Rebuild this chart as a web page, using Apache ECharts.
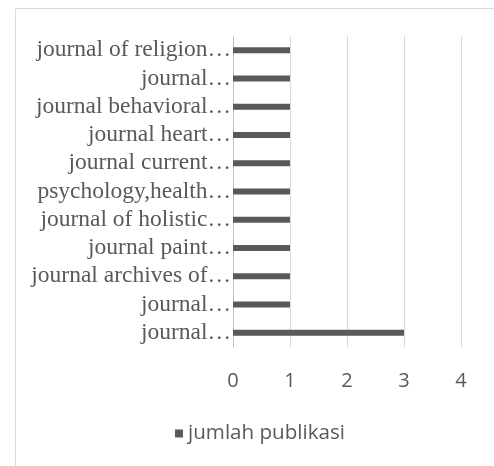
<!DOCTYPE html>
<html>
<head>
<meta charset="utf-8">
<script src="https://cdn.jsdelivr.net/npm/echarts@6/dist/echarts.min.js"></script>
<style>
  html, body { margin: 0; padding: 0; background: #fff; }
  #chart { width: 494px; height: 466px; }
</style>
</head>
<body>
<div id="chart"></div>
<script>
// categories, bottom to top
var journals = [
  'journal…',
  'journal…',
  'journal archives of…',
  'journal paint…',
  'journal of holistic…',
  'psychology,health…',
  'journal current…',
  'journal heart…',
  'journal behavioral…',
  'journal…',
  'journal of religion…'
];
var jumlah = [3, 1, 1, 1, 1, 1, 1, 1, 1, 1, 1];
var xTicks = [0, 1, 2, 3, 4];

var myChart = echarts.init(document.getElementById('chart'));
var option = {
  animation: false,
  graphic: [
    {
      type: 'rect',
      shape: { x: 15.5, y: 8.5, width: 600, height: 600 },
      style: { fill: 'none', stroke: '#d9d9d9', lineWidth: 1 },
      silent: true
    }
  ],
  grid: { left: 233, right: 33, top: 36, bottom: 119 },
  legend: {
    data: ['jumlah publikasi'],
    bottom: 17,
    left: 170,
    icon: 'rect',
    itemWidth: 8,
    itemHeight: 8,
    itemGap: 8,
    textStyle: { fontFamily: 'Open Sans', fontSize: 20.6, color: '#595959' }
  },
  xAxis: {
    type: 'value',
    min: xTicks[0],
    max: xTicks[xTicks.length - 1],
    interval: 1,
    axisLine: { show: false },
    axisTick: { show: false },
    splitLine: { lineStyle: { color: '#d9d9d9', width: 1 } },
    axisLabel: {
      margin: 24,
      fontFamily: 'Open Sans',
      fontSize: 20,
      color: '#595959'
    }
  },
  yAxis: {
    type: 'category',
    data: journals,
    axisLine: { show: true, lineStyle: { color: '#bfbfbf', width: 1 } },
    axisTick: { show: false },
    axisLabel: {
      interval: 0,
      margin: 2,
      fontFamily: 'Liberation Serif',
      fontSize: 23.5,
      color: '#595959'
    }
  },
  series: [
    {
      name: 'jumlah publikasi',
      type: 'bar',
      data: jumlah,
      barWidth: 6,
      itemStyle: { color: '#595959' }
    }
  ]
};
myChart.setOption(option);
</script>
</body>
</html>
